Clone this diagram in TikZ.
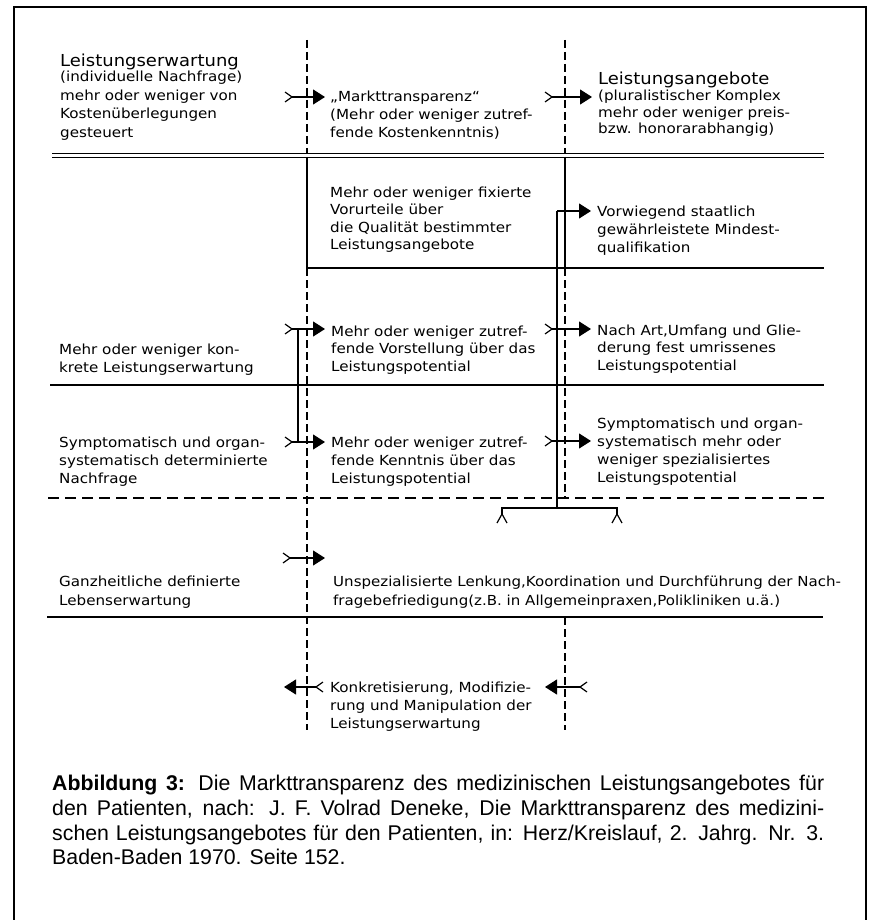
\documentclass[tikz,border=0pt]{standalone}
\usepackage{fontspec}
\setmainfont{DejaVu Sans}[FakeStretch=1.09]
\newfontfamily\capfont{Liberation Sans}
\usetikzlibrary{arrows.meta,calc}

\tikzset{
  rule/.style={line width=1.25pt},
  thinrule/.style={line width=0.9pt},
  vdash/.style={line width=1.2pt,dash pattern=on 8pt off 4pt},
  hdash/.style={line width=1.2pt,dash pattern=on 11pt off 6pt},
  flow/.style={line width=1.2pt,-{Triangle[length=12pt,width=15pt]}},
  % multi-line blocks are placed by the baseline of their last line
  txt/.style={anchor=base west,inner sep=0pt,align=left,
    font=\fontsize{13.9}{18}\selectfont},
  head/.style={anchor=base west,inner sep=0pt,
    font=\fontsize{16.5}{20}\selectfont},
  capline/.style={anchor=base west,inner sep=0pt,
    font=\capfont\fontsize{21.3}{25}\selectfont},
  pics/tailR/.style={code={\draw[line width=1.2pt] (-7,-5) -- (0,0) -- (-7,5);}},
  pics/tailL/.style={code={\draw[line width=1.2pt] (7,-5) -- (0,0) -- (7,5);}},
  pics/tailU/.style={code={\draw[line width=1.2pt] (-5,15) -- (0,6) -- (5,15);}},
}

\begin{document}
\begin{tikzpicture}[x=1pt,y=-1pt]
\useasboundingbox (0,0) rectangle (873,920);

% outer frame (open at the bottom)
\draw[rule] (14,920) -- (14,7) -- (866,7) -- (866,920);

% column guides
\draw[vdash] (307,40) -- (307,153);
\draw[vdash] (565,40) -- (565,153);
\draw[rule] (307,157) -- (307,268);
\draw[vdash] (307,268) -- (307,730);
\draw[rule] (565,157) -- (565,268);
\draw[vdash] (565,268) -- (565,498);
\draw[vdash] (565,617) -- (565,730);

% row separators
\draw[thinrule] (52,153) -- (824,153);
\draw[thinrule] (52,157) -- (824,157);
\draw[rule] (307,268) -- (824,268);
\draw[rule] (50,385) -- (824,385);
\draw[hdash] (48,498) -- (824,498);
\draw[rule] (47,617) -- (823,617);

% header texts
\node[head] (hL) at (60,67) {Leistungserwartung};
\node[txt,font=\fontsize{13.9}{18.5}\selectfont] (bL) at (60,137.5)
  {(individuelle Nachfrage)\\mehr oder weniger von\\Kostenüberlegungen\\gesteuert};
\node[txt] (mT) at (330,138)
  {„Markttransparenz“\\(Mehr oder weniger zutref-\\fende Kostenkenntnis)};
\node[head] (hR) at (598,85) {Leistungsangebote};
\node[txt,font=\fontsize{13.9}{16.5}\selectfont] (bR) at (598,134)
  {(pluralistischer Komplex\\mehr oder weniger preis-\\bzw. honorarabhangig)};

% row 2
\node[txt,font=\fontsize{13.9}{17.5}\selectfont] (r2m) at (330,249.5)
  {Mehr oder weniger fixierte\\Vorurteile über\\die Qualität bestimmter\\Leistungsangebote};
\node[txt] (r2r) at (597,252)
  {Vorwiegend staatlich\\gewährleistete Mindest-\\qualifikation};

% row 3
\node[txt,font=\fontsize{13.9}{18.5}\selectfont] (r3l) at (59,372.5)
  {Mehr oder weniger kon-\\krete Leistungserwartung};
\node[txt,font=\fontsize{13.9}{17.5}\selectfont] (r3m) at (331,371)
  {Mehr oder weniger zutref-\\fende Vorstellung über das\\Leistungspotential};
\node[txt,font=\fontsize{13.9}{17.5}\selectfont] (r3r) at (597,370)
  {Nach Art,Umfang und Glie-\\derung fest umrissenes\\Leistungspotential};

% row 4
\node[txt] (r4l) at (59,483)
  {Symptomatisch und organ-\\systematisch determinierte\\Nachfrage};
\node[txt] (r4m) at (331,483)
  {Mehr oder weniger zutref-\\fende Kenntnis über das\\Leistungspotential};
\node[txt] (r4r) at (597,482)
  {Symptomatisch und organ-\\systematisch mehr oder\\weniger spezialisiertes\\Leistungspotential};

% row 5
\node[txt,font=\fontsize{13.9}{19}\selectfont] (r5l) at (59,605)
  {Ganzheitliche definierte\\Lebenserwartung};
\node[txt,font=\fontsize{13.8}{19}\selectfont] (r5m) at (333,605)
  {Unspezialisierte Lenkung,Koordination und Durchführung der Nach-\\fragebefriedigung(z.B. in Allgemeinpraxen,Polikliniken u.ä.)};

% feedback row
\node[txt] (fb) at (330,728)
  {Konkretisierung, Modifizie-\\rung und Manipulation der\\Leistungserwartung};

% arrow end points
\coordinate (a1s) at (292,97);  \coordinate (a1e) at (325,97);
\coordinate (a2s) at (552,97);  \coordinate (a2e) at (592,97);
\coordinate (a3s) at (557,211); \coordinate (a3e) at (591,211);
\coordinate (a4s) at (292,329); \coordinate (a4e) at (325,329);
\coordinate (a5s) at (552,329); \coordinate (a5e) at (591,329);
\coordinate (a6s) at (292,442); \coordinate (a6e) at (325,442);
\coordinate (a7s) at (552,441); \coordinate (a7e) at (591,441);
\coordinate (a8s) at (290,558); \coordinate (a8e) at (325,558);
\coordinate (a9s) at (316,687); \coordinate (a9e) at (284,687);
\coordinate (a10s) at (580,687); \coordinate (a10e) at (545,687);

% connectors between the columns
\foreach \k in {1,2,3,4,5,6,7,8,9,10} {\draw[flow] (a\k s) -- (a\k e);}
\foreach \k in {1,2,4,5,6,7,8} {\pic at (a\k s) {tailR};}
\pic at (a9s) {tailL};
\pic at (a10s) {tailL};

% collecting bars
\coordinate (lb1) at (298,329); \coordinate (lb2) at (298,442);
\draw[rule] (lb1) -- (lb2);
\coordinate (rb1) at (557,211); \coordinate (rb2) at (557,508);
\draw[rule] (rb1) -- (rb2);
\coordinate (bk1) at (502,508); \coordinate (bk2) at (617,508);
\draw[rule] ($(bk1)+(0,6)$) -- (bk1) -- (bk2) -- ($(bk2)+(0,6)$);
\pic at (bk1) {tailU};
\pic at (bk2) {tailU};

% caption
\node[capline] (c1) at (52,790) {\hbox to 772pt{\textbf{Abbildung 3:} Die Markttransparenz des medizinischen Leistungsangebotes für}};
\node[capline] (c2) at (52,815) {\hbox to 772pt{den Patienten, nach: J. F. Volrad Deneke, Die Markttransparenz des medizini-}};
\node[capline] (c3) at (52,840) {\hbox to 772pt{schen Leistungsangebotes für den Patienten, in: Herz/Kreislauf, 2. Jahrg. Nr. 3.}};
\node[capline] (c4) at (52,864) {Baden-Baden 1970. Seite 152.};
\end{tikzpicture}
\end{document}
